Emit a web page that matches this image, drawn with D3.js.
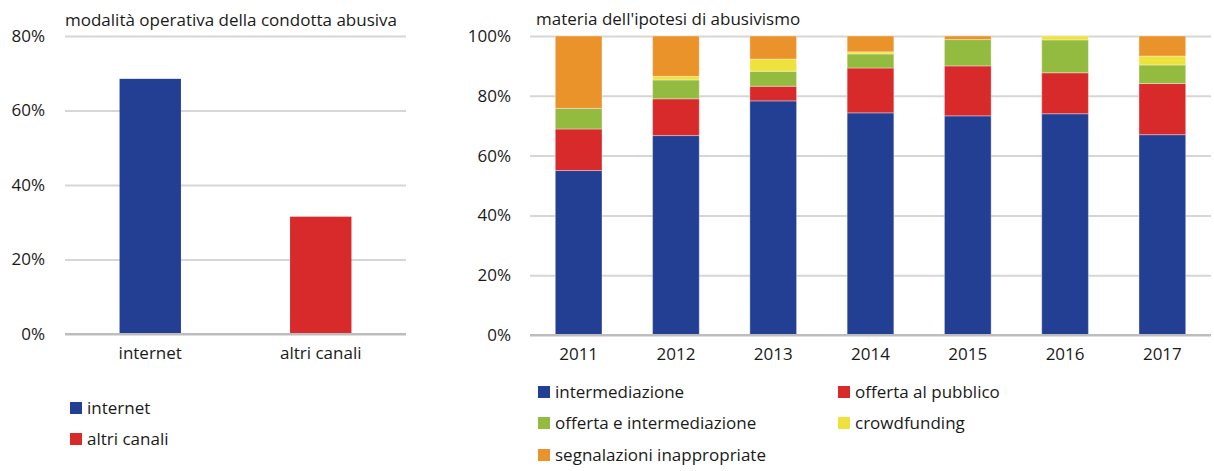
<!DOCTYPE html>
<html>
<head>
<meta charset="utf-8">
<script src="https://cdn.jsdelivr.net/npm/d3@7"></script>
<style>
  html, body { margin: 0; padding: 0; background: #fff; }
  svg { display: block; }
  text { font-family: "Open Sans", Lato, sans-serif; fill: #1a1a1a; }
</style>
</head>
<body>
<svg id="chart" width="1214" height="471"></svg>
<script>
// Left panel: operating channel of the abusive conduct (% of cases)
const channelCategories = ["internet", "altri canali"];
const channelValues = [68.5, 31.5];
const channelTicks = [0, 20, 40, 60, 80];

// Right panel: subject of the suspected abusive activity, share per year (%)
const years = ["2011", "2012", "2013", "2014", "2015", "2016", "2017"];
const seriesNames = [
  "intermediazione",
  "offerta al pubblico",
  "offerta e intermediazione",
  "crowdfunding",
  "segnalazioni inappropriate"
];
const intermediazione        = [55.0, 66.7, 78.3, 74.3, 73.3, 74.0, 67.0];
const offertaAlPubblico      = [13.9, 12.3, 4.9, 15.0, 16.7, 13.7, 17.1];
const offertaEIntermediazione = [6.9, 6.3, 5.0, 4.7, 8.8, 11.0, 6.2];
const crowdfunding           = [0.0, 1.2, 4.1, 0.7, 0.0, 1.3, 3.0];
const segnalazioniInapprop   = [24.2, 13.5, 7.7, 5.3, 1.2, 0.0, 6.7];
const shareTicks = [0, 20, 40, 60, 80, 100];

const BLUE = "#233f94", RED = "#d92a2b", GREEN = "#93bb3f", YELLOW = "#f0e23d", ORANGE = "#eb932b";
const channelColors = [BLUE, RED];
const seriesColors = [BLUE, RED, GREEN, YELLOW, ORANGE];

const svg = d3.select("#chart");
const FS = 17;

// ---------- left panel ----------
{
  const x0 = 65, x1 = 406, yTop = 36, yBot = 334;
  const x = d3.scaleBand().domain(channelCategories).range([x0, x1])
    .paddingInner(0.64).paddingOuter(0.32);
  const y = d3.scaleLinear().domain([0, 80]).range([yBot, yTop]);
  const g = svg.append("g");

  g.append("text").attr("x", x0).attr("y", 26).style("font-size", "17px")
    .text("modalità operativa della condotta abusiva");

  const yAxis = d3.axisLeft(y).tickValues(channelTicks).tickSize(-(x1 - x0))
    .tickFormat(d => d + "%");
  const ya = g.append("g").attr("transform", `translate(${x0},0)`).call(yAxis);
  ya.select(".domain").remove();
  ya.selectAll(".tick line").attr("stroke", d => d === 0 ? "#bdbdbd" : "#d6d6d6").attr("stroke-width", 2);
  ya.selectAll(".tick text").attr("x", -20).style("font-size", FS + "px").style("font-family", null).attr("fill", "#1a1a1a");

  g.selectAll("rect.bar").data(channelCategories).join("rect")
    .attr("class", "bar")
    .attr("x", d => x(d)).attr("width", x.bandwidth())
    .attr("y", (d, i) => y(channelValues[i]))
    .attr("height", (d, i) => y(0) - y(channelValues[i]))
    .attr("fill", (d, i) => channelColors[i]);

  const xAxis = d3.axisBottom(x).tickSize(0).tickPadding(13);
  const xa = g.append("g").attr("transform", `translate(0,${yBot})`).call(xAxis);
  xa.select(".domain").remove();
  xa.selectAll(".tick text").style("font-size", FS + "px").style("font-family", null).attr("fill", "#1a1a1a");

  const leg = g.selectAll("g.leg").data(channelCategories).join("g")
    .attr("class", "leg")
    .attr("transform", (d, i) => `translate(70,${408 + i * 31})`);
  leg.append("rect").attr("x", 0).attr("y", -6).attr("width", 12).attr("height", 12)
    .attr("fill", (d, i) => channelColors[i]);
  leg.append("text").attr("x", 17).attr("y", 6).style("font-size", FS + "px").text(d => d);
}

// ---------- right panel ----------
{
  const x0 = 530, x1 = 1211, yTop = 36, yBot = 335;
  const x = d3.scaleBand().domain(years).range([x0, x1])
    .paddingInner(0.52).paddingOuter(0.26);
  const y = d3.scaleLinear().domain([0, 100]).range([yBot, yTop]);
  const g = svg.append("g");

  g.append("text").attr("x", 536).attr("y", 25).style("font-size", "17px")
    .text("materia dell'ipotesi di abusivismo");

  const yAxis = d3.axisLeft(y).tickValues(shareTicks).tickSize(-(x1 - x0))
    .tickFormat(d => d + "%");
  const ya = g.append("g").attr("transform", `translate(${x0},0)`).call(yAxis);
  ya.select(".domain").remove();
  ya.selectAll(".tick line").attr("stroke", d => d === 0 ? "#bdbdbd" : "#d6d6d6").attr("stroke-width", 2);
  ya.selectAll(".tick text").attr("x", -19).style("font-size", FS + "px").style("font-family", null).attr("fill", "#1a1a1a");

  const rows = years.map((yr, i) => ({
    year: yr,
    [seriesNames[0]]: intermediazione[i],
    [seriesNames[1]]: offertaAlPubblico[i],
    [seriesNames[2]]: offertaEIntermediazione[i],
    [seriesNames[3]]: crowdfunding[i],
    [seriesNames[4]]: segnalazioniInapprop[i]
  }));
  const stacked = d3.stack().keys(seriesNames)(rows);

  g.selectAll("g.layer").data(stacked).join("g")
    .attr("class", "layer")
    .attr("fill", (d, i) => seriesColors[i])
    .selectAll("rect").data(d => d.filter(s => s[1] - s[0] > 0)).join("rect")
    .attr("x", d => x(d.data.year)).attr("width", x.bandwidth())
    .attr("y", d => y(d[1])).attr("height", d => y(d[0]) - y(d[1]))
    .attr("stroke", "#ffffff").attr("stroke-opacity", 0.35).attr("stroke-width", 1);

  // redraw the baseline above the bars
  g.append("line").attr("x1", x0).attr("x2", x1).attr("y1", y(0)).attr("y2", y(0))
    .attr("stroke", "#bdbdbd").attr("stroke-width", 2);

  const xAxis = d3.axisBottom(x).tickSize(0).tickPadding(13);
  const xa = g.append("g").attr("transform", `translate(0,${yBot})`).call(xAxis);
  xa.select(".domain").remove();
  xa.selectAll(".tick text").style("font-size", FS + "px").style("font-family", null).attr("fill", "#1a1a1a");

  const legPos = [[538, 392], [838, 392], [538, 423], [838, 423], [538, 455]];
  const leg = g.selectAll("g.leg").data(seriesNames).join("g")
    .attr("class", "leg")
    .attr("transform", (d, i) => `translate(${legPos[i][0]},${legPos[i][1]})`);
  leg.append("rect").attr("x", 0).attr("y", -6).attr("width", 12).attr("height", 12)
    .attr("fill", (d, i) => seriesColors[i]);
  leg.append("text").attr("x", 17).attr("y", 6).style("font-size", FS + "px").text(d => d);
}

// keep the left baseline above its bars too
svg.append("line").attr("x1", 65).attr("x2", 406).attr("y1", 334).attr("y2", 334)
  .attr("stroke", "#bdbdbd").attr("stroke-width", 2);
</script>
</body>
</html>
